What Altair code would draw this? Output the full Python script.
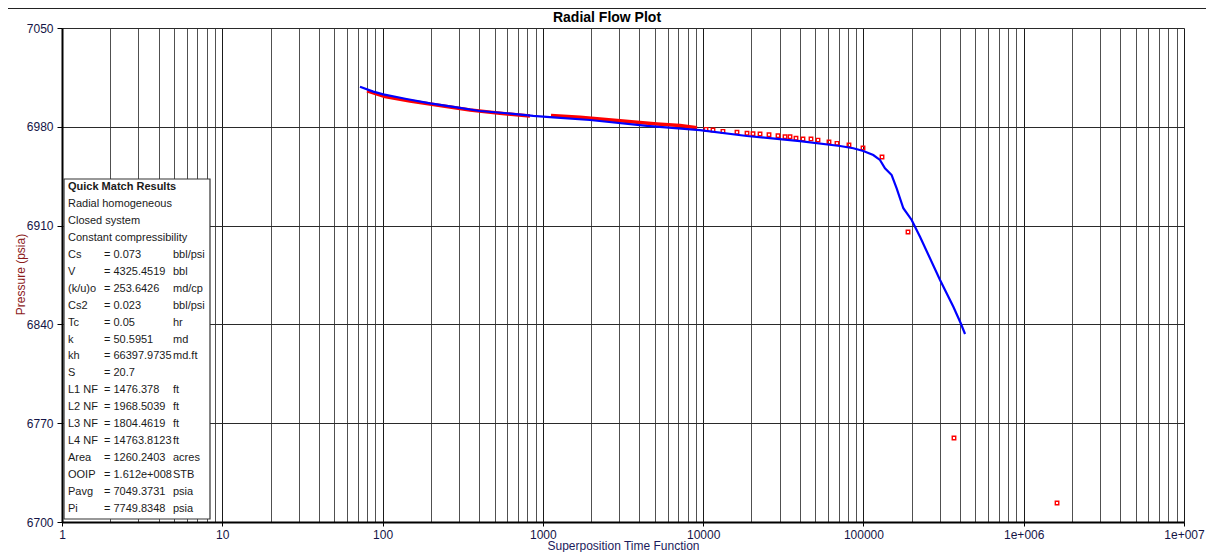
import altair as alt
import pandas as pd

# ---- data ----
blue_t = [72.3, 87.5, 101, 141, 198, 290, 405, 595, 871, 1161, 1968, 4463, 9550, 18770,
          40180, 71460, 86500, 99800, 115200, 126800, 136300, 150000, 161200, 177400,
          200000, 225400, 300600, 363900, 404700, 430500]
blue_p = [7008.4, 7004.9, 7003.0, 6999.7, 6996.6, 6993.8, 6991.2, 6989.6, 6987.7, 6986.7,
          6984.8, 6980.6, 6977.7, 6973.5, 6969.9, 6966.4, 6964.8, 6962.9, 6960.0, 6956.5,
          6950.6, 6945.8, 6936.4, 6922.3, 6914.0, 6902.1, 6871.5, 6852.5, 6840.8, 6833.2]

red1_t = [80, 103.5, 148.3, 228, 351, 540, 831]
red1_p = [7005.4, 7001.5, 6998.3, 6995.1, 6991.9, 6989.6, 6987.7]
red2_t = [1124, 1706, 3030, 5150, 7170, 9160]
red2_p = [6988.0, 6986.7, 6984.3, 6982.0, 6980.9, 6979.4]

redpts_t = [10420, 11520, 13290, 16260, 18780, 20470, 22640, 25760, 29310, 32420, 34830,
            37950, 41960, 47080, 52060, 60970, 68380, 81240, 99400, 130600, 189700,
            367300, 1614000]
redpts_p = [6978.2, 6977.7, 6976.8, 6976.1, 6975.4, 6975.1, 6974.9, 6974.4, 6973.7, 6973.0,
            6973.0, 6971.9, 6971.4, 6971.4, 6970.6, 6969.2, 6968.3, 6967.1, 6965.0, 6958.6,
            6905.5, 6759.5, 6713.5]

x_decades = [1, 10, 100, 1000, 10000, 100000, 1000000, 10000000]
x_labels = ["1", "10", "100", "1000", "10000", "100000", "1e+006", "1e+007"]
y_ticks = [6700, 6770, 6840, 6910, 6980, 7050]

legend_header = "Quick Match Results"
legend_names = ["Radial homogeneous", "Closed system", "Constant compressibility",
                "Cs", "V", "(k/u)o", "Cs2", "Tc", "k", "kh", "S", "L1 NF", "L2 NF",
                "L3 NF", "L4 NF", "Area", "OOIP", "Pavg", "Pi"]
legend_values = ["", "", "", "= 0.073", "= 4325.4519", "= 253.6426", "= 0.023", "= 0.05",
                 "= 50.5951", "= 66397.9735", "= 20.7", "= 1476.378", "= 1968.5039",
                 "= 1804.4619", "= 14763.8123", "= 1260.2403", "= 1.612e+008",
                 "= 7049.3731", "= 7749.8348"]
legend_units = ["", "", "", "bbl/psi", "bbl", "md/cp", "bbl/psi", "hr", "md", "md.ft", "",
                "ft", "ft", "ft", "ft", "acres", "STB", "psia", "psia"]

# ---- tables ----
blue_df = pd.DataFrame({"t": blue_t, "p": blue_p})
red_df = pd.concat([
    pd.DataFrame({"t": red1_t, "p": red1_p, "seg": "a"}),
    pd.DataFrame({"t": red2_t, "p": red2_p, "seg": "b"}),
])
pts_df = pd.DataFrame({"t": redpts_t, "p": redpts_p})
one = pd.DataFrame({"a": [0]})

FONT = "Liberation Sans"
W, H = 1122, 494

x_grid_values = []
for d in x_decades[:-1]:
    for m in range(1, 10):
        x_grid_values.append(m * d)
x_grid_values.append(x_decades[-1])

decade_test = "indexof(%s, datum.value) >= 0" % str(x_decades)
label_expr = " : ".join("datum.value == %d ? '%s'" % (v, l) for v, l in zip(x_decades, x_labels)) + " : ''"

x_enc = alt.X(
    "t:Q",
    scale=alt.Scale(type="log", domain=[1, 1e7], nice=False),
    axis=alt.Axis(
        values=x_grid_values, labelExpr=label_expr, labelOverlap=False, labelFlush=False,
        labelFont=FONT, labelFontSize=12, labelColor="#141446",
        tickColor={"condition": {"test": decade_test, "value": "black"}, "value": "transparent"},
        tickSize=4, labelPadding=3,
        gridColor={"condition": {"test": decade_test, "value": "#1a1a1a"}, "value": "#505050"},
        gridWidth=1,
        title="Superposition Time Function", titleFont=FONT, titleFontSize=12,
        titleFontWeight="normal", titleColor="#1c1c5c", titleY=27, titleBaseline="alphabetic",
        domainColor="black", domainWidth=2,
    ),
)
y_enc = alt.Y(
    "p:Q",
    scale=alt.Scale(domain=[6700, 7050], nice=False, zero=False),
    axis=alt.Axis(
        values=y_ticks, format="d", labelFont=FONT, labelFontSize=12, labelColor="#141446",
        tickSize=5, tickColor="black", labelPadding=4, gridColor="#2a2a2a", gridWidth=1,
        title="Pressure (psia)", titleFont=FONT, titleFontSize=12, titleFontWeight="normal",
        titleColor="#8b1a1a", titleAngle=270, titleX=-38, titleY=246,
        titleBaseline="alphabetic", titleAlign="center",
        domainColor="black", domainWidth=2,
    ),
)

red_line = alt.Chart(red_df).mark_line(color="#ff0000", strokeWidth=3.5).encode(
    x=x_enc, y=y_enc, detail="seg:N")
red_pts = alt.Chart(pts_df).mark_point(shape="square", size=12, filled=False,
                                       color="#ff0000", strokeWidth=1.4, opacity=1).encode(
    x=x_enc, y=y_enc)
blue_line = alt.Chart(blue_df).mark_line(color="#0000ff", strokeWidth=2.2).encode(
    x=x_enc, y=y_enc)

box = alt.Chart(one).mark_rect(fill="white", stroke="#333333", strokeWidth=1.2).encode(
    x=alt.value(2), x2=alt.value(148), y=alt.value(151), y2=alt.value(491))

LH = 16.95
BASE = 162
header = alt.Chart(one).mark_text(text=legend_header, font=FONT, fontSize=11, fontWeight="bold",
                                  align="left", baseline="alphabetic", color="#1a1a1a").encode(
    x=alt.value(6), y=alt.value(BASE))


def column_layers(lines, xpos):
    """One multi-line text mark per run of non-empty lines (rows start at 1)."""
    layers = []
    run, start = [], None
    for i, s in enumerate(lines + [""]):
        if s:
            if start is None:
                start = i
            run.append(s)
        elif run:
            layers.append(
                alt.Chart(one).mark_text(text=run, font=FONT, fontSize=11, lineHeight=LH,
                                         align="left", baseline="alphabetic",
                                         color="#1a1a1a").encode(
                    x=alt.value(xpos), y=alt.value(BASE + LH * (start + 1))))
            run, start = [], None
    return layers


text_layers = (column_layers(legend_names, 6) + column_layers(legend_values, 42)
               + column_layers(legend_units, 111))

title = alt.Chart(one).mark_text(text="Radial Flow Plot", font=FONT, fontSize=14,
                                 fontWeight="bold", align="center", baseline="alphabetic",
                                 color="black").encode(x=alt.value(545), y=alt.value(-6))
top_rule = alt.Chart(one).mark_rule(color="#222222", strokeWidth=1).encode(
    x=alt.value(-54), x2=alt.value(1144), y=alt.value(-19.5))

chart = alt.layer(red_line, red_pts, blue_line, box, header, *text_layers, title,
                  top_rule).properties(
    width=W, height=H,
    padding={"left": 54, "top": 20, "right": 22, "bottom": 30},
    autosize=alt.AutoSizeParams(type="none"),
).configure_view(stroke="black", strokeWidth=2).configure(background="white")

chart.save("out.html", embed_options={"renderer": "svg", "actions": False})
